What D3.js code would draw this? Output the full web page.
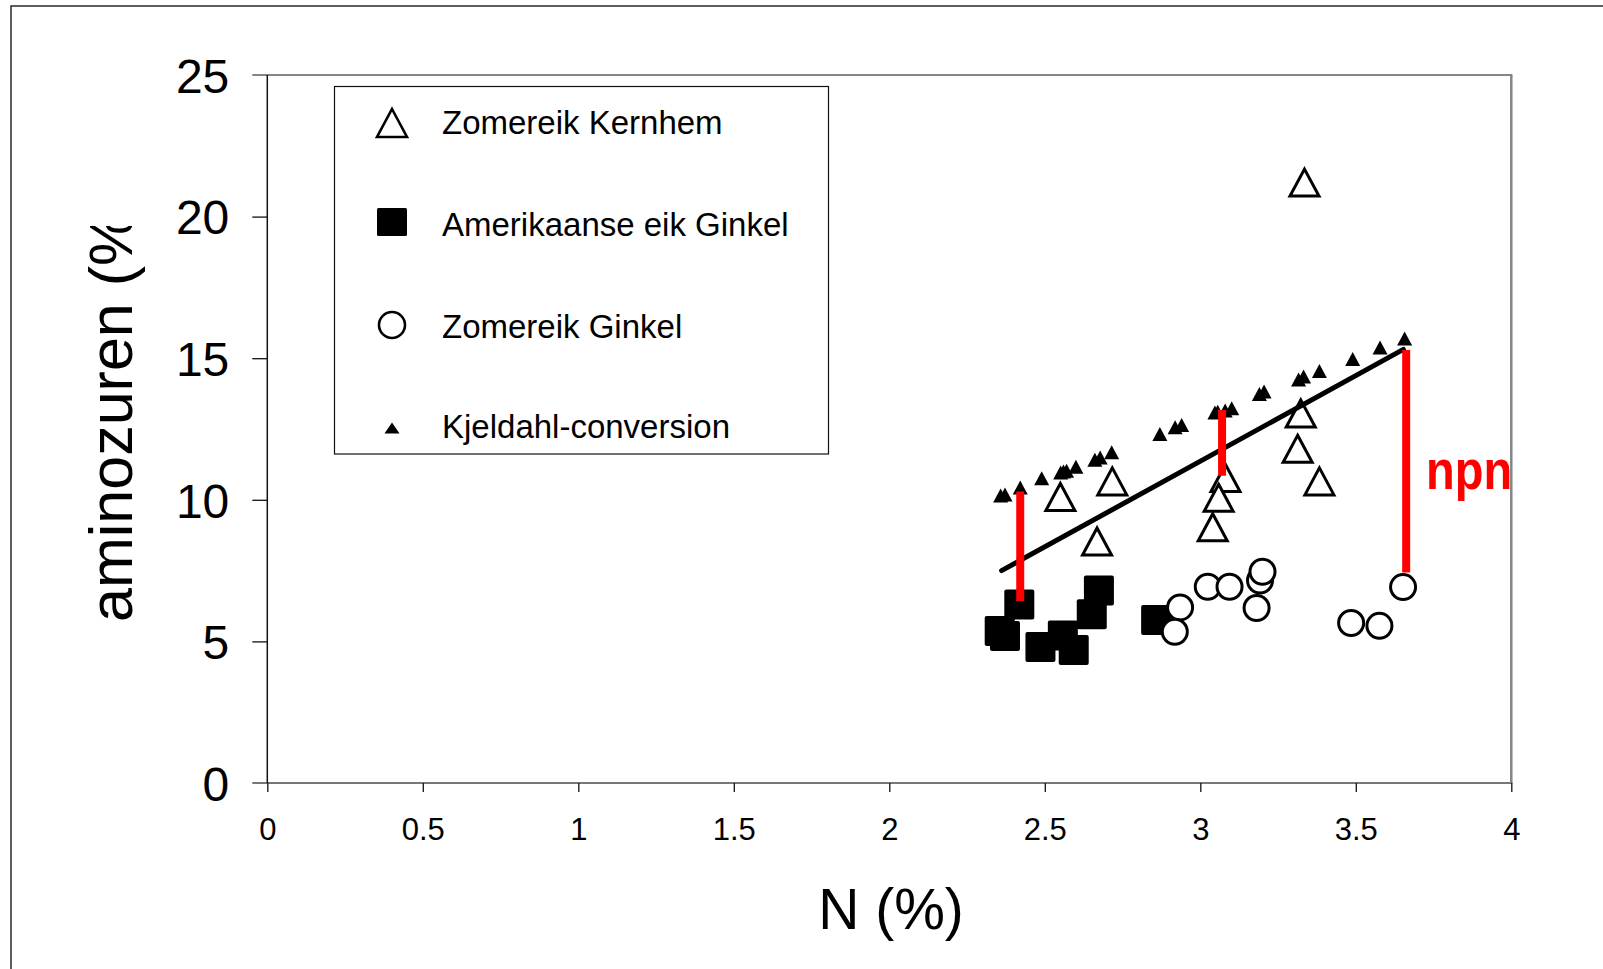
<!DOCTYPE html>
<html>
<head>
<meta charset="utf-8">
<script src="https://cdn.jsdelivr.net/npm/d3@7"></script>
<style>
  html, body { margin: 0; padding: 0; background: #fff; }
  svg { display: block; }
  text { font-family: "Liberation Sans", Arial, Helvetica, sans-serif; fill: #000; }
</style>
</head>
<body>
<script>
// ---------------- data ----------------
const xTicks = [0, 0.5, 1, 1.5, 2, 2.5, 3, 3.5, 4];
const xTickLabels = ["0", "0.5", "1", "1.5", "2", "2.5", "3", "3.5", "4"];
const yTicks = [0, 5, 10, 15, 20, 25];
const yTickLabels = ["0", "5", "10", "15", "20", "25"];

const seriesNames = ["Zomereik Kernhem", "Amerikaanse eik Ginkel", "Zomereik Ginkel", "Kjeldahl-conversion"];

// Zomereik Kernhem (open triangles)
const kernhemN  = [2.550, 2.717, 2.668, 3.081, 3.059, 3.040, 3.323, 3.313, 3.383, 3.335];
const kernhemAA = [10.10, 10.65, 8.53, 10.77, 10.07, 9.03, 13.05, 11.80, 10.65, 21.20];

// Amerikaanse eik Ginkel (filled squares)
const amerikaanseN  = [2.355, 2.372, 2.418, 2.486, 2.558, 2.593, 2.651, 2.674, 2.858];
const amerikaanseAA = [5.37, 5.19, 6.30, 4.80, 5.21, 4.70, 5.96, 6.80, 5.76];

// Zomereik Ginkel (open circles)
const ginkelN  = [2.935, 2.918, 3.024, 3.094, 3.192, 3.200, 3.181, 3.485, 3.576, 3.652];
const ginkelAA = [6.20, 5.34, 6.93, 6.93, 7.15, 7.46, 6.18, 5.65, 5.55, 6.92];

// Kjeldahl-conversion (small filled triangles)
const kjeldahlN  = [2.358, 2.372, 2.421, 2.490, 2.551, 2.560, 2.570, 2.600, 2.661, 2.678, 2.715,
                    2.870, 2.919, 2.940, 3.047, 3.056, 3.080, 3.101, 3.190, 3.205, 3.316, 3.332,
                    3.383, 3.490, 3.578, 3.657];
const kjeldahlAA = [10.15, 10.19, 10.43, 10.76, 10.96, 11.00, 11.03, 11.17, 11.41, 11.49, 11.68,
                    12.32, 12.56, 12.64, 13.08, 13.11, 13.15, 13.23, 13.74, 13.82, 14.25, 14.35,
                    14.55, 14.97, 15.38, 15.70];

// regression line (end points)
const lineN  = [2.361, 3.653];
const lineAA = [7.50, 15.31];

// npn bars
const npnN      = [2.421, 3.070, 3.662];
const npnTop    = [10.29, 13.17, 15.29];
const npnBottom = [6.43, 10.85, 7.43];
const npnLabel = "npn";

const xTitle = "N (%)";
const yTitle = "aminozuren (%";

// ---------------- layout ----------------
const W = 1603, H = 969;
const plot = { left: 267.3, right: 1511.3, top: 75, bottom: 783 };

const svg = d3.select("body").append("svg")
  .attr("width", W).attr("height", H)
  .attr("viewBox", `0 0 ${W} ${H}`);

svg.append("rect").attr("width", W).attr("height", H).attr("fill", "#fff");

// outer frame (left and top visible)
svg.append("path")
  .attr("d", `M11,${H} V6 H${W}`)
  .attr("fill", "none").attr("stroke", "#2a2a2a").attr("stroke-width", 1.5);

const x = d3.scaleLinear().domain([0, 4]).range([plot.left, plot.right]);
const y = d3.scaleLinear().domain([0, 25]).range([plot.bottom, plot.top]);

// plot frame (gray)
const frame = svg.append("g");
frame.append("line").attr("x1", plot.left - 15).attr("x2", plot.right + 1).attr("y1", y(25)).attr("y2", y(25))
  .attr("stroke", "#858585").attr("stroke-width", 2);
frame.append("line").attr("x1", plot.right).attr("x2", plot.right).attr("y1", y(25)).attr("y2", y(0))
  .attr("stroke", "#858585").attr("stroke-width", 2.5);
frame.append("line").attr("x1", plot.left - 15).attr("x2", plot.right + 1).attr("y1", y(0)).attr("y2", y(0))
  .attr("stroke", "#777").attr("stroke-width", 2.2);

// y axis
const yAxis = svg.append("g")
  .attr("transform", `translate(${plot.left},0)`)
  .call(d3.axisLeft(y).tickValues(yTicks).tickFormat((d, i) => yTickLabels[i]).tickSize(15).tickPadding(23));
yAxis.select(".domain").remove();
yAxis.selectAll(".tick line").attr("stroke", d => (d === 25 || d === 0) ? "none" : "#111").attr("stroke-width", 1.3);
yAxis.selectAll(".tick text").attr("font-size", 48).attr("dy", "0.36em")
  .attr("font-family", "'Liberation Sans', Arial, sans-serif").attr("fill", "#000");

svg.append("line").attr("x1", plot.left).attr("x2", plot.left).attr("y1", y(25)).attr("y2", y(0))
  .attr("stroke", "#111").attr("stroke-width", 1.5);

// x axis
const xAxis = svg.append("g")
  .attr("transform", `translate(0,${plot.bottom})`)
  .call(d3.axisBottom(x).tickValues(xTicks).tickFormat((d, i) => xTickLabels[i]).tickSize(9).tickPadding(26));
xAxis.select(".domain").remove();
xAxis.selectAll(".tick line").attr("stroke", "#111").attr("stroke-width", 1.3);
xAxis.selectAll(".tick text").attr("font-size", 31)
  .attr("font-family", "'Liberation Sans', Arial, sans-serif").attr("fill", "#000");

// axis titles
svg.append("text")
  .attr("x", 891).attr("y", 929)
  .attr("text-anchor", "middle").attr("font-size", 57)
  .text(xTitle);

svg.append("clipPath").attr("id", "ytclip")
  .append("rect").attr("x", 0).attr("y", 226).attr("width", 250).attr("height", 700);
svg.append("g").attr("clip-path", "url(#ytclip)")
  .append("text")
  .attr("transform", "translate(132,622) rotate(-90)")
  .attr("text-anchor", "start").attr("font-size", 61)
  .text(yTitle);

// ---------------- marks ----------------
const triPath = (w, h) => `M0,${-h / 2} L${w / 2},${h / 2} L${-w / 2},${h / 2} Z`;

const zip = (a, b) => a.map((v, i) => [v, b[i]]);

// open triangles
svg.append("g").selectAll("path").data(zip(kernhemN, kernhemAA)).join("path")
  .attr("transform", d => `translate(${x(d[0])},${y(d[1])})`)
  .attr("d", triPath(29, 27))
  .attr("fill", "#fff").attr("stroke", "#000").attr("stroke-width", 3).attr("stroke-linejoin", "miter");

// squares
svg.append("g").selectAll("rect").data(zip(amerikaanseN, amerikaanseAA)).join("rect")
  .attr("x", d => x(d[0]) - 15).attr("y", d => y(d[1]) - 15)
  .attr("width", 30).attr("height", 30).attr("rx", 2)
  .attr("fill", "#000");

// circles
svg.append("g").selectAll("circle").data(zip(ginkelN, ginkelAA)).join("circle")
  .attr("cx", d => x(d[0])).attr("cy", d => y(d[1])).attr("r", 12.5)
  .attr("fill", "#fff").attr("stroke", "#000").attr("stroke-width", 3);

// Kjeldahl small triangles
svg.append("g").selectAll("path").data(zip(kjeldahlN, kjeldahlAA)).join("path")
  .attr("transform", d => `translate(${x(d[0])},${y(d[1])})`)
  .attr("d", triPath(15, 14))
  .attr("fill", "#000");

// regression line
svg.append("path")
  .datum(zip(lineN, lineAA))
  .attr("d", d3.line().x(d => x(d[0])).y(d => y(d[1])))
  .attr("fill", "none").attr("stroke", "#000").attr("stroke-width", 5).attr("stroke-linecap", "round");

// npn red bars
svg.append("g").selectAll("line").data(npnN.map((n, i) => [n, npnTop[i], npnBottom[i]])).join("line")
  .attr("x1", d => x(d[0])).attr("x2", d => x(d[0]))
  .attr("y1", d => y(d[1])).attr("y2", d => y(d[2]))
  .attr("stroke", "#ff0000").attr("stroke-width", 8);

svg.append("text")
  .attr("transform", "translate(1426,489) scale(0.84,1)")
  .attr("font-size", 56).attr("font-weight", "bold")
  .style("fill", "#ff0000")
  .text(npnLabel);

// ---------------- legend ----------------
const lg = svg.append("g");
lg.append("rect").attr("x", 334.5).attr("y", 86.5).attr("width", 494).attr("height", 367.5)
  .attr("fill", "#fff").attr("stroke", "#111").attr("stroke-width", 1.2);

const legRowsY = [123, 222, 325, 428];
const legTextY = [134, 236, 338, 438];
const symX = 392;

lg.append("path").attr("transform", `translate(${symX},${legRowsY[0]})`).attr("d", triPath(30, 28))
  .attr("fill", "#fff").attr("stroke", "#000").attr("stroke-width", 2.6);
lg.append("rect").attr("x", symX - 15).attr("y", legRowsY[1] - 14).attr("width", 30).attr("height", 28).attr("rx", 1.5)
  .attr("fill", "#000");
lg.append("circle").attr("cx", symX).attr("cy", legRowsY[2]).attr("r", 13)
  .attr("fill", "#fff").attr("stroke", "#000").attr("stroke-width", 2.6);
lg.append("path").attr("transform", `translate(${symX},${legRowsY[3]})`).attr("d", triPath(15, 11))
  .attr("fill", "#000");

lg.selectAll("text.leg").data(seriesNames).join("text")
  .attr("class", "leg")
  .attr("x", 442).attr("y", (d, i) => legTextY[i])
  .attr("font-size", 33)
  .text(d => d);
</script>
</body>
</html>
